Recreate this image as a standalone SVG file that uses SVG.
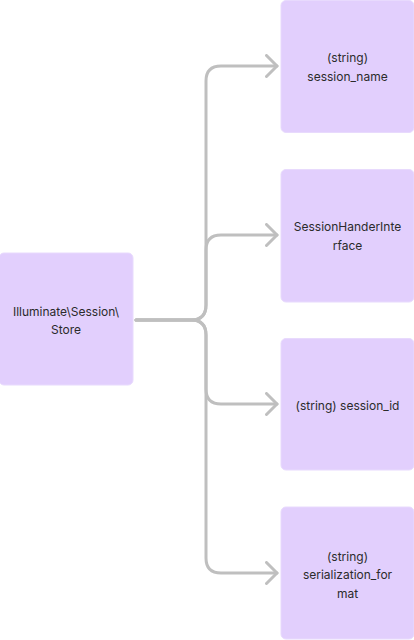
<svg xmlns="http://www.w3.org/2000/svg" width="414" height="640" viewBox="0 0 414 640">
<defs>
<style>
.node rect{fill:#e2cffd;stroke:#e8dafd;stroke-width:1}
.node text{font-family:Inter,"Noto Sans","Liberation Sans",sans-serif;font-size:12px;fill:#2b2b2b;text-anchor:middle;dominant-baseline:central}
.edge{fill:none;stroke:#bfbfbf;stroke-width:3;stroke-linecap:round;stroke-linejoin:round}
</style>
<marker id="arr" viewBox="0 0 14 24" refX="12" refY="12" markerWidth="14" markerHeight="24" markerUnits="userSpaceOnUse" orient="auto">
<polyline points="1.5,1.5 12,12 1.5,22.5" fill="none" stroke="#bfbfbf" stroke-width="3" stroke-linecap="round" stroke-linejoin="round"/>
</marker>
</defs>
<rect width="414" height="640" fill="#ffffff"/>
<g id="connectors">
<path class="edge" marker-end="url(#arr)" d="M136,320 L191,320 Q206,320 206,305 L206,81 Q206,66 221,66 L277,66"/>
<path class="edge" marker-end="url(#arr)" d="M136,320 L191,320 Q206,320 206,305 L206,250 Q206,235 221,235 L277,235"/>
<path class="edge" marker-end="url(#arr)" d="M136,320 L191,320 Q206,320 206,335 L206,389 Q206,404 221,404 L277,404"/>
<path class="edge" marker-end="url(#arr)" d="M136,320 L191,320 Q206,320 206,335 L206,558 Q206,573 221,573 L277,573"/>
</g>
<g id="store" class="node">
<rect x="-1" y="253" width="134" height="132" rx="5"/>
<text x="66" y="311">Illuminate\Session\</text>
<text x="66" y="329.5">Store</text>
</g>
<g id="session_name" class="node">
<rect x="281" y="0.5" width="133" height="132" rx="5"/>
<text x="347.5" y="57.5">(string)</text>
<text x="347.5" y="76">session_name</text>
</g>
<g id="handler" class="node">
<rect x="281" y="169.5" width="133" height="132.5" rx="5"/>
<text x="347.5" y="226.5">SessionHanderInte</text>
<text x="347.5" y="245">rface</text>
</g>
<g id="session_id" class="node">
<rect x="281" y="338.5" width="133" height="131.5" rx="5"/>
<text x="347.5" y="405">(string) session_id</text>
</g>
<g id="serialization_format" class="node">
<rect x="281" y="507" width="133" height="132" rx="5"/>
<text x="347.5" y="556">(string)</text>
<text x="347.5" y="574.5">serialization_for</text>
<text x="347.5" y="593">mat</text>
</g>
</svg>
